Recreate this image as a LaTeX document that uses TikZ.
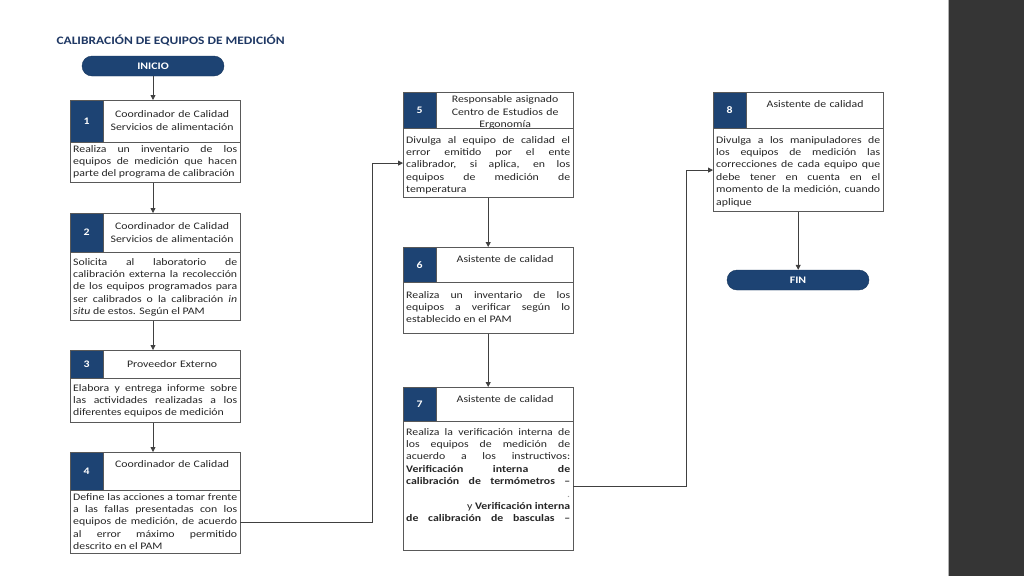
\documentclass[tikz,border=0pt]{standalone}
\usepackage{fontspec}
\setmainfont{Carlito}[FakeStretch=1.18]
\usetikzlibrary{arrows.meta,positioning,calc}
\definecolor{navy}{HTML}{1D4373}
\definecolor{titlenavy}{HTML}{1F3864}
\definecolor{linegray}{HTML}{595959}
\definecolor{slidebar}{HTML}{353535}

\begin{document}
\begin{tikzpicture}[
  x=1pt, y=-1pt,
  term/.style={draw=navy!80!black,fill=navy,rounded corners=10pt,minimum width=142pt,minimum height=20pt,inner sep=0pt,text=white,font=\fontsize{10}{12}\selectfont\bfseries},
  stepnum/.style={draw=linegray,fill=navy,anchor=north west,minimum width=33pt,inner sep=0pt,text=white,font=\fontsize{10}{12}\selectfont\bfseries},
  stephead/.style={draw=linegray,anchor=north west,text width=131pt,align=center,inner xsep=3pt,inner ysep=3pt,text height=12.5pt,text=black!85,font=\fontsize{10}{12.4}\selectfont},
  stepbody/.style={draw=linegray,anchor=north west,text width=164pt,align=justify,inner xsep=3pt,inner ysep=2pt,text height=7.5pt,text=black!85,font=\fontsize{10}{12.4}\selectfont},
  arr/.style={-{Triangle[length=5pt,width=5pt]},draw=black!75,line width=0.8pt},
]
  \useasboundingbox (0,0) rectangle (1024,576);
  \fill[white] (0,0) rectangle (1024,576);
  \fill[slidebar] (949,0) rectangle (1024,576);
  \draw[black!30] (948,0) -- (948,576);

  % title and start
  \node[anchor=west,text=titlenavy,font=\fontsize{11.4}{13}\selectfont\bfseries] (title) at (53,40) {CALIBRACIÓN DE EQUIPOS DE MEDICIÓN};
  \node[term] (ini) at (153,66) {INICIO};

  % first column: steps 1--4
  \node[stepnum,minimum height=42pt] (n1) at (70,100) {1};
  \node[stephead,text height=14.5pt,text depth=21.5pt] (h1) at (n1.north east) {Coordinador de Calidad\\Servicios de alimentación};
  \node[stepbody,text depth=28.5pt] (b1) at (n1.south west) {Realiza un inventario de los\linebreak equipos de medición que hacen\linebreak parte del programa de calibración};

  \node[stepnum,minimum height=39pt] (n2) at (70,213) {2};
  \node[stephead,text height=13.5pt,text depth=19.5pt] (h2) at (n2.north east) {Coordinador de Calidad\\Servicios de alimentación};
  \node[stepbody,text height=10.5pt,text depth=53.5pt] (b2) at (n2.south west) {Solicita al laboratorio de\linebreak calibración externa la recolección\linebreak de los equipos programados para\linebreak ser calibrados o la calibración \emph{in}\linebreak \emph{situ} de estos. Según el PAM};

  \node[stepnum,minimum height=28pt] (n3) at (70,350) {3};
  \node[stephead,text height=14.5pt,text depth=7.5pt] (h3) at (n3.north east) {Proveedor Externo};
  \node[stepbody,text height=10.5pt,text depth=29.5pt] (b3) at (n3.south west) {Elabora y entrega informe sobre\linebreak las actividades realizadas a los\linebreak diferentes equipos de medición};

  \node[stepnum,minimum height=38pt] (n4) at (70,452) {4};
  \node[stephead,text depth=19.5pt] (h4) at (n4.north east) {Coordinador de Calidad};
  \node[stepbody,text depth=51.5pt] (b4) at (n4.south west) {Define las acciones a tomar frente\linebreak a las fallas presentadas con los\linebreak equipos de medición, de acuerdo\linebreak al error máximo permitido\linebreak descrito en el PAM};

  % second column: steps 5--7
  \node[stepnum,minimum height=36pt] (n5) at (403,92) {5};
  \node[stephead,text height=7.5pt,text depth=22.5pt] (h5) at (n5.north east) {Responsable asignado\\Centro de Estudios de\\Ergonomía};
  \node[stepbody,text height=12.5pt,text depth=52.5pt] (b5) at (n5.south west) {Divulga al equipo de calidad el\linebreak error emitido por el ente\linebreak calibrador, si aplica, en los\linebreak equipos de medición de\linebreak temperatura};

  \node[stepnum,minimum height=35pt] (n6) at (403,247) {6};
  \node[stephead,text depth=16.5pt] (h6) at (n6.north east) {Asistente de calidad};
  \node[stepbody,text height=13.5pt,text depth=33.5pt] (b6) at (n6.south west) {Realiza un inventario de los\linebreak equipos a verificar según lo\linebreak establecido en el PAM};

  \node[stepnum,minimum height=34pt] (n7) at (403,387) {7};
  \node[stephead,text depth=15.5pt] (h7) at (n7.north east) {Asistente de calidad};
  \node[stepbody,text height=11.5pt,text depth=113.5pt] (b7) at (n7.south west) {Realiza la verificación interna de\linebreak los equipos de medición de\linebreak acuerdo a los instructivos:\linebreak \textbf{Verificación interna de\linebreak calibración de termómetros –}\linebreak \mbox{}\hfill{\color{black!40}.}\par
    \mbox{}\hfill y \textbf{Verificación interna}\linebreak \textbf{de calibración de basculas –}\parfillskip=0pt\par};

  % third column: step 8 and end
  \node[stepnum,minimum height=36pt] (n8) at (713,92) {8};
  \node[stephead,text depth=17.5pt] (h8) at (n8.north east) {Asistente de calidad};
  \node[stepbody,text height=12.5pt,text depth=66.5pt] (b8) at (n8.south west) {Divulga a los manipuladores de\linebreak los equipos de medición las\linebreak correcciones de cada equipo que\linebreak debe tener en cuenta en el\linebreak momento de la medición, cuando\linebreak aplique};
  \node[term] (fin) at (798,280) {FIN};

  % connectors
  \draw[arr] (ini) -- (ini |- n1.north);
  \draw[arr] (ini |- b1.south) -- (ini |- n2.north);
  \draw[arr] (ini |- b2.south) -- (ini |- n3.north);
  \draw[arr] (ini |- b3.south) -- (ini |- n4.north);
  \coordinate (j45) at (372,0);
  \draw[arr] (b4.east) -- (b4.east -| j45) |- (b5.west);
  \draw[arr] (b5) -- (b5 |- n6.north);
  \draw[arr] (b6) -- (b6 |- n7.north);
  \coordinate (j78) at (686,0);
  \draw[arr] (b7.east) -- (b7.east -| j78) |- (b8.west);
  \draw[arr] (b8) -- (b8 |- fin.north);
\end{tikzpicture}
\end{document}
